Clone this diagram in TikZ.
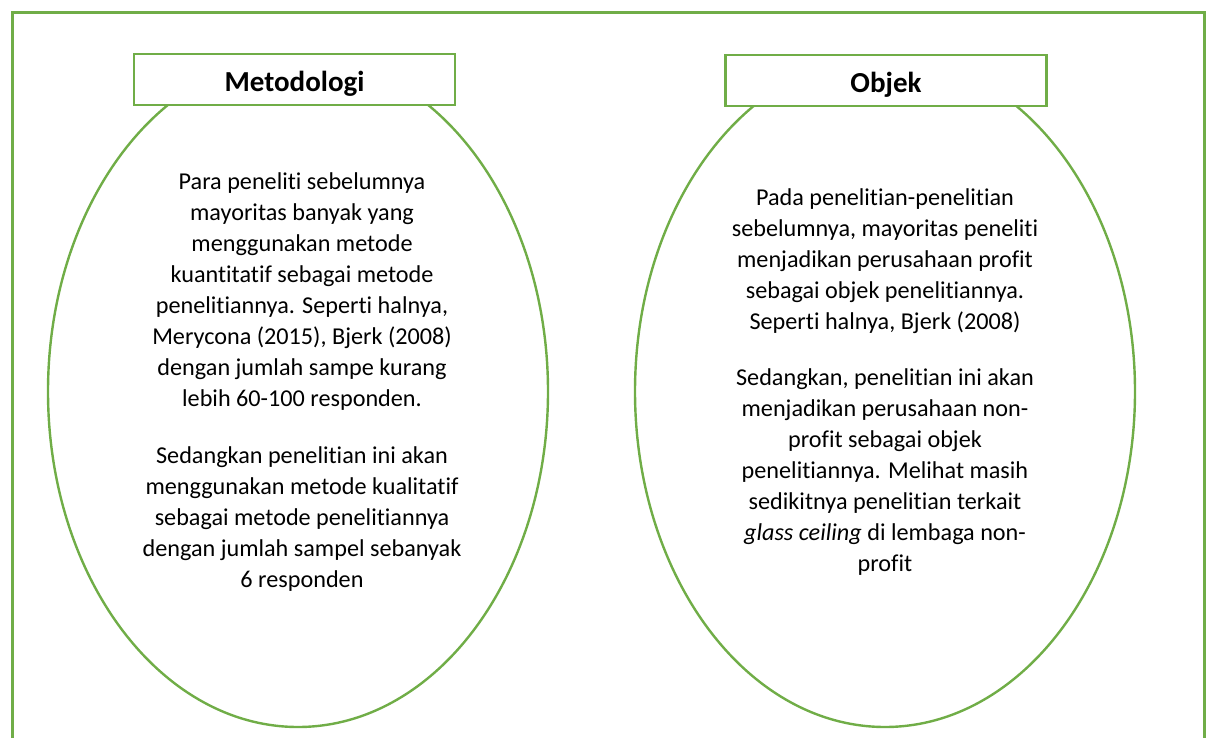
\documentclass[tikz,border=0pt]{standalone}
\usepackage{fontspec}
\setmainfont{Carlito}[Ligatures={NoCommon}]
\usetikzlibrary{shapes.geometric}
\definecolor{gr}{HTML}{70AD47}
\begin{document}
\begin{tikzpicture}[x=1pt,y=-1pt,
  outer/.style={draw=gr,line width=3pt},
  ell/.style={draw=gr,line width=2.4pt,ellipse,minimum width=500pt,minimum height=671pt,inner sep=0pt},
  titlebox/.style={draw=gr,fill=white,line width=2.8pt,minimum width=321pt,minimum height=51pt,inner sep=0pt,
     text height=25pt,text depth=0pt,font=\fontsize{29}{32}\selectfont\bfseries},
  body/.style={align=center,inner sep=0pt,anchor=north,font=\fontsize{24.2}{31}\selectfont}
]
\useasboundingbox (0,0) rectangle (1210,738);
\clip (0,0) rectangle (1210,738);
\draw[outer] (12,13) rectangle (1204,800);
\node[ell] (e1) at (298,391.5) {};
\node[ell] (e2) at (885,391.5) {};
\node[titlebox] (t1) at (294.5,79.5) {Metodologi};
\node[titlebox] (t2) at (886,80.5) {Objek};
\node[body] (m1) at (302,172.5) {Para peneliti sebelumnya\\mayoritas banyak yang\\menggunakan metode\\kuantitatif sebagai metode\\penelitiannya. Seperti halnya,\\Merycona (2015), Bjerk (2008)\\dengan jumlah sampe kurang\\lebih 60-100 responden.};
\node[body] (m2) at (302,446.5) {Sedangkan penelitian ini akan\\menggunakan metode kualitatif\\sebagai metode penelitiannya\\dengan jumlah sampel sebanyak\\6 responden};
\node[body] (o1) at (885,188.5) {Pada penelitian-penelitian\\sebelumnya, mayoritas peneliti\\menjadikan perusahaan profit\\sebagai objek penelitiannya.\\Seperti halnya, Bjerk (2008)};
\node[body] (o2) at (885,368.5) {Sedangkan, penelitian ini akan\\menjadikan perusahaan non-\\profit sebagai objek\\penelitiannya. Melihat masih\\sedikitnya penelitian terkait\\\textit{glass ceiling} di lembaga non-\\profit};
\end{tikzpicture}
\end{document}
